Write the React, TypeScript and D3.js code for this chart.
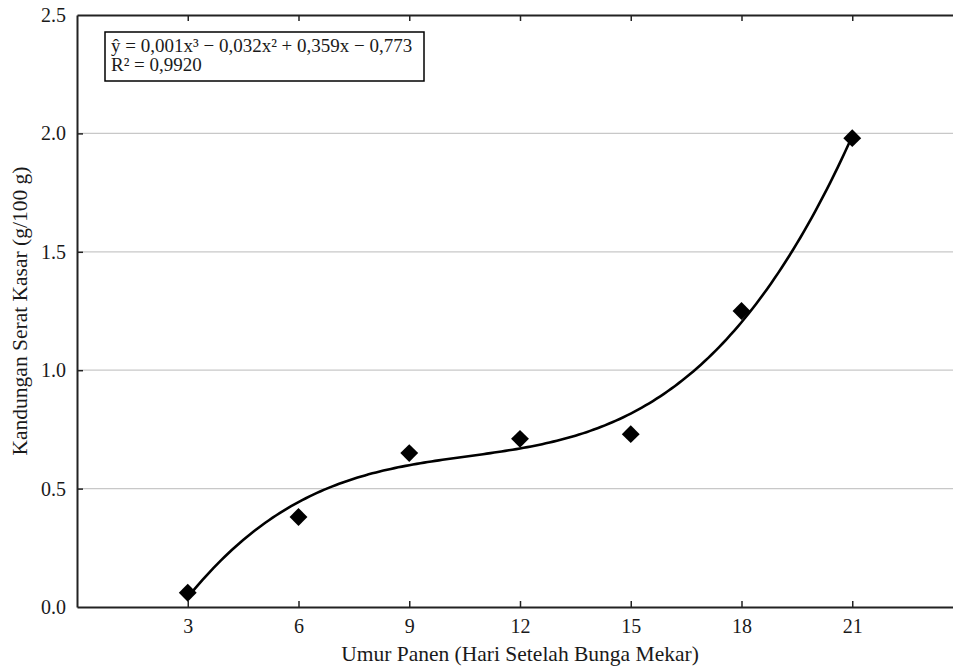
import React, { useEffect, useRef } from "react";
import * as d3 from "d3";

// data
const days = [3, 6, 9, 12, 15, 18, 21];
const fiber = [0.06, 0.38, 0.65, 0.71, 0.73, 1.25, 1.98];
const xTicks = [3, 6, 9, 12, 15, 18, 21];
const yTicks = [0, 0.5, 1.0, 1.5, 2.0, 2.5];
const gridTicks = [0.5, 1.0, 1.5, 2.0];
const equationLines = [
    "ŷ = 0,001x³ − 0,032x² + 0,359x − 0,773",
    "R² = 0,9920",
];

// least squares cubic fit (trend line)
const fitCubic = (xs: number[], ys: number[]) => {
    const n = 4;
    const A: number[][] = [];
    for (let i = 0; i < n; i++) {
        A.push([]);
        for (let j = 0; j < n; j++) {
            A[i].push(d3.sum(xs, (x) => Math.pow(x, i + j)));
        }
        A[i].push(d3.sum(xs, (x, k) => Math.pow(x, i) * ys[k]));
    }
    for (let c = 0; c < n; c++) {
        let p = c;
        for (let r = c + 1; r < n; r++) if (Math.abs(A[r][c]) > Math.abs(A[p][c])) p = r;
        [A[c], A[p]] = [A[p], A[c]];
        for (let r = 0; r < n; r++) {
            if (r === c) continue;
            const f = A[r][c] / A[c][c];
            for (let k = c; k <= n; k++) A[r][k] -= f * A[c][k];
        }
    }
    return A.map((row, i) => row[n] / row[i]);
};

const App = () => {
    const svgRef = useRef<SVGSVGElement>(null);

    useEffect(() => {
        const width = 953;
        const height = 668;
        const left = 77;
        const right = 963;
        const top = 15;
        const bottom = 607;
        const font = "'Liberation Serif', 'Times New Roman', serif";
        const ink = "#1a1a1a";

        const svg = d3.select(svgRef.current);
        svg.selectAll("*").remove();
        svg.attr("width", width).attr("height", height);

        const x = d3.scaleLinear().domain([0, 24]).range([left, right]);
        const y = d3.scaleLinear().domain([0, 2.5]).range([bottom, top]);

        // grid
        svg.append("g")
            .selectAll("line")
            .data(gridTicks)
            .join("line")
            .attr("x1", left)
            .attr("x2", right)
            .attr("y1", (d) => y(d))
            .attr("y2", (d) => y(d))
            .attr("stroke", "#c8c8c8")
            .attr("stroke-width", 1.2);

        // trend line
        const coef = fitCubic(days, fiber);
        const f = (t: number) =>
            coef[0] + coef[1] * t + coef[2] * t * t + coef[3] * t * t * t;
        const xs = d3.range(3, 21.0001, 0.1);
        const line = d3
            .line<number>()
            .x((d) => x(d))
            .y((d) => y(f(d)));
        svg.append("path")
            .datum(xs)
            .attr("d", line)
            .attr("fill", "none")
            .attr("stroke", "#000")
            .attr("stroke-width", 2.6);

        // points
        const sym = d3.symbol().type(d3.symbolSquare).size(160);
        svg.append("g")
            .selectAll("path")
            .data(days)
            .join("path")
            .attr("d", sym)
            .attr(
                "transform",
                (d, i) => `translate(${x(d)},${y(fiber[i])}) rotate(45)`
            )
            .attr("fill", "#000");

        // axes
        const axisColor = "#222";
        const bx = svg
            .append("g")
            .attr("transform", `translate(0,${bottom})`)
            .call(d3.axisBottom(x).tickValues(xTicks).tickSizeInner(-6).tickSizeOuter(0).tickPadding(12));
        const by = svg
            .append("g")
            .attr("transform", `translate(${left},0)`)
            .call(
                d3.axisLeft(y)
                    .tickValues(yTicks)
                    .tickFormat(d3.format(".1f"))
                    .tickSizeInner(-6)
                    .tickSizeOuter(0)
                    .tickPadding(11)
            );
        const tx = svg
            .append("g")
            .attr("transform", `translate(0,${top})`)
            .call(d3.axisTop(x).tickValues(xTicks).tickSizeInner(-6).tickSizeOuter(0).tickFormat(() => ""));
        [bx, by, tx].forEach((g) => {
            g.attr("font-size", null).attr("font-family", null);
            g.select(".domain").attr("stroke", axisColor).attr("stroke-width", 2);
            g.selectAll(".tick line").attr("stroke", axisColor).attr("stroke-width", 1.5);
            g.selectAll("text")
                .style("font-family", font)
                .style("font-size", "20px")
                .attr("fill", ink);
        });
        by.selectAll(".tick").filter((d) => d === 0 || d === 2.5).select("line").remove();

        // axis titles
        svg.append("text")
            .attr("x", (left + right) / 2)
            .attr("y", 661)
            .attr("text-anchor", "middle")
            .style("font-family", font)
            .style("font-size", "21.5px")
            .attr("fill", ink)
            .text("Umur Panen (Hari Setelah Bunga Mekar)");
        svg.append("text")
            .attr("transform", `translate(27,${(top + bottom) / 2}) rotate(-90)`)
            .attr("text-anchor", "middle")
            .style("font-family", font)
            .style("font-size", "21.5px")
            .attr("fill", ink)
            .text("Kandungan Serat Kasar (g/100 g)");

        // equation box
        svg.append("rect")
            .attr("x", 105)
            .attr("y", 32)
            .attr("width", 319)
            .attr("height", 49)
            .attr("fill", "#fff")
            .attr("stroke", "#000")
            .attr("stroke-width", 1.5);
        svg.append("g")
            .selectAll("text")
            .data(equationLines)
            .join("text")
            .attr("x", 111)
            .attr("y", (d, i) => 52 + i * 19)
            .style("font-family", font)
            .style("font-size", "19px")
            .attr("fill", ink)
            .text((d) => d);
    }, []);

    return (
        <svg
            ref={svgRef}
            style={{ position: "absolute", left: 0, top: 0, background: "#fff" }}
        ></svg>
    );
};

export default App;
